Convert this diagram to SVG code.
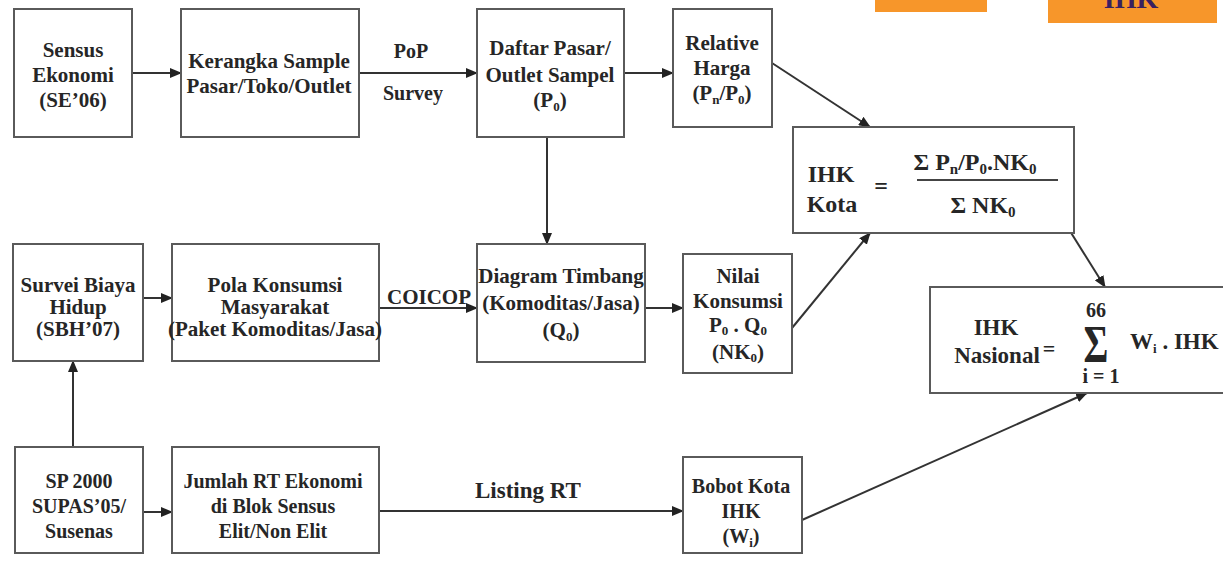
<svg xmlns="http://www.w3.org/2000/svg" width="1223" height="563" viewBox="0 0 1223 563">
<style>
.box{fill:#fff;stroke:#5a5a5a;stroke-width:2}
.t{font-family:'Liberation Serif','Tinos','Times New Roman','DejaVu Serif',serif;font-weight:bold;font-size:21px;fill:#262626;text-anchor:middle}
.s{font-size:20px}
.f{font-size:24px}
.c{stroke:#333;stroke-width:2;fill:none}
.sub{font-size:13px}
</style>
<defs>
<marker id="ah" markerWidth="12" markerHeight="10" refX="11" refY="5" orient="auto" markerUnits="userSpaceOnUse">
<path d="M0,0 L12,5 L0,10 Z" fill="#222"/>
</marker>
</defs>
<rect width="1223" height="563" fill="#fff"/>
<g id="banner">
<rect x="875" y="-5" width="112" height="17" fill="#f7962a"/>
<rect x="1048" y="-5" width="169" height="28" fill="#f7962a"/>
<text x="1131" y="8" class="t" style="font-size:28px;fill:#3a2060">IHK</text>
</g>
<g id="connectors">
<line class="c" x1="132" y1="73" x2="181" y2="73" marker-end="url(#ah)"/>
<line class="c" x1="359" y1="73" x2="477" y2="73" marker-end="url(#ah)"/>
<text class="t s" x="411" y="58">PoP</text>
<text class="t s" x="413" y="100">Survey</text>
<line class="c" x1="624" y1="73" x2="673" y2="73" marker-end="url(#ah)"/>
<line class="c" x1="772" y1="63" x2="870" y2="127" marker-end="url(#ah)"/>
<line class="c" x1="547" y1="137" x2="547" y2="244" marker-end="url(#ah)"/>
<line class="c" x1="143" y1="298" x2="172" y2="298" marker-end="url(#ah)"/>
<line class="c" x1="379" y1="308" x2="477" y2="308" marker-end="url(#ah)"/>
<text class="t" x="429" y="304">COICOP</text>
<line class="c" x1="645" y1="308" x2="683" y2="308" marker-end="url(#ah)"/>
<line class="c" x1="792" y1="328" x2="870" y2="233" marker-end="url(#ah)"/>
<line class="c" x1="1038" y1="180" x2="1105" y2="287" marker-end="url(#ah)"/>
<line class="c" x1="73" y1="447" x2="73" y2="361" marker-end="url(#ah)"/>
<line class="c" x1="143" y1="512" x2="172" y2="512" marker-end="url(#ah)"/>
<line class="c" x1="379" y1="511" x2="683" y2="511" marker-end="url(#ah)"/>
<text class="t" x="528" y="498" style="font-size:23px">Listing RT</text>
<line class="c" x1="802" y1="520" x2="1087" y2="393" marker-end="url(#ah)"/>
</g>
<g id="sensus-ekonomi">
<rect class="box" x="14" y="9" width="118" height="128"/>
<text class="t" x="73" y="57">Sensus</text>
<text class="t" x="73" y="82">Ekonomi</text>
<text class="t" x="73" y="107">(SE’06)</text>
</g>
<g id="kerangka-sample">
<rect class="box" x="181" y="9" width="178" height="128"/>
<text class="t" x="269" y="68">Kerangka Sample</text>
<text class="t" x="269" y="93">Pasar/Toko/Outlet</text>
</g>
<g id="daftar-pasar">
<rect class="box" x="477" y="9" width="147" height="128"/>
<text class="t" x="550" y="55">Daftar Pasar/</text>
<text class="t" x="550" y="82">Outlet Sampel</text>
<text class="t" x="550" y="107">(P<tspan class="sub" dy="4">0</tspan><tspan dy="-4">)</tspan></text>
</g>
<g id="relative-harga">
<rect class="box" x="673" y="9" width="99" height="118"/>
<text class="t" x="722" y="50">Relative</text>
<text class="t" x="722" y="75">Harga</text>
<text class="t" x="722" y="100">(P<tspan class="sub" dy="4">n</tspan><tspan dy="-4">/P</tspan><tspan class="sub" dy="4">0</tspan><tspan dy="-4">)</tspan></text>
</g>
<g id="ihk-kota">
<rect class="box" x="793" y="127" width="281" height="106"/>
<text class="t f" x="831" y="182">IHK</text>
<text class="t f" x="832" y="212">Kota</text>
<text class="t f" x="881" y="194">=</text>
<text class="t f" x="975" y="170">Σ P<tspan class="sub" dy="4" style="font-size:15px">n</tspan><tspan dy="-4">/P</tspan><tspan class="sub" dy="4" style="font-size:15px">0</tspan><tspan dy="-4">.NK</tspan><tspan class="sub" dy="4" style="font-size:15px">0</tspan></text>
<line x1="917" y1="180" x2="1058" y2="180" stroke="#444" stroke-width="2"/>
<text class="t f" x="983" y="213">Σ NK<tspan class="sub" dy="4" style="font-size:15px">0</tspan></text>
</g>
<g id="survei-biaya-hidup">
<rect class="box" x="13" y="244" width="130" height="117"/>
<text class="t" x="78" y="292">Survei Biaya</text>
<text class="t" x="78" y="314">Hidup</text>
<text class="t" x="78" y="336">(SBH’07)</text>
</g>
<g id="pola-konsumsi">
<rect class="box" x="172" y="244" width="207" height="117"/>
<text class="t" x="275" y="292">Pola Konsumsi</text>
<text class="t" x="275" y="314">Masyarakat</text>
<text class="t" x="275" y="336">(Paket Komoditas/Jasa)</text>
</g>
<g id="diagram-timbang">
<rect class="box" x="477" y="244" width="168" height="118"/>
<text class="t" x="561" y="283">Diagram Timbang</text>
<text class="t" x="561" y="310">(Komoditas/Jasa)</text>
<text class="t" x="561" y="337">(Q<tspan class="sub" dy="4">0</tspan><tspan dy="-4">)</tspan></text>
</g>
<g id="nilai-konsumsi">
<rect class="box" x="683" y="254" width="109" height="119"/>
<text class="t" x="738" y="283">Nilai</text>
<text class="t" x="738" y="308">Konsumsi</text>
<text class="t" x="738" y="332">P<tspan class="sub" dy="3">0</tspan><tspan dy="-3"> . Q</tspan><tspan class="sub" dy="3">0</tspan></text>
<text class="t" x="738" y="359">(NK<tspan class="sub" dy="3">0</tspan><tspan dy="-3">)</tspan></text>
</g>
<g id="ihk-nasional">
<rect class="box" x="930" y="287" width="300" height="106"/>
<text class="t" x="996" y="335" style="font-size:23px">IHK</text>
<text class="t" x="997" y="363" style="font-size:23px">Nasional</text>
<text class="t" x="1049" y="356" style="font-size:22px">=</text>
<text class="t" x="1096" y="317" style="font-size:20px">66</text>
<text class="t" transform="translate(1096,362) scale(1,1.4)" x="0" y="0" style="font-size:38px">Σ</text>
<text class="t" x="1101" y="383" style="font-size:20px">i = 1</text>
<text class="t" x="1130" y="349" style="font-size:23px;text-anchor:start">W<tspan class="sub" dy="4">i</tspan><tspan dy="-4"> . IHK</tspan></text>
</g>
<g id="sp2000">
<rect class="box" x="15" y="447" width="128" height="106"/>
<text class="t s" x="79" y="488">SP 2000</text>
<text class="t s" x="79" y="513">SUPAS’05/</text>
<text class="t s" x="79" y="538">Susenas</text>
</g>
<g id="jumlah-rt">
<rect class="box" x="172" y="447" width="207" height="106"/>
<text class="t s" x="273" y="488">Jumlah RT Ekonomi</text>
<text class="t s" x="273" y="513">di Blok Sensus</text>
<text class="t s" x="273" y="538">Elit/Non Elit</text>
</g>
<g id="bobot-kota">
<rect class="box" x="683" y="457" width="119" height="96"/>
<text class="t s" x="741" y="493">Bobot Kota</text>
<text class="t s" x="741" y="518">IHK</text>
<text class="t s" x="741" y="543">(W<tspan class="sub" dy="4">i</tspan><tspan dy="-4">)</tspan></text>
</g>
</svg>
